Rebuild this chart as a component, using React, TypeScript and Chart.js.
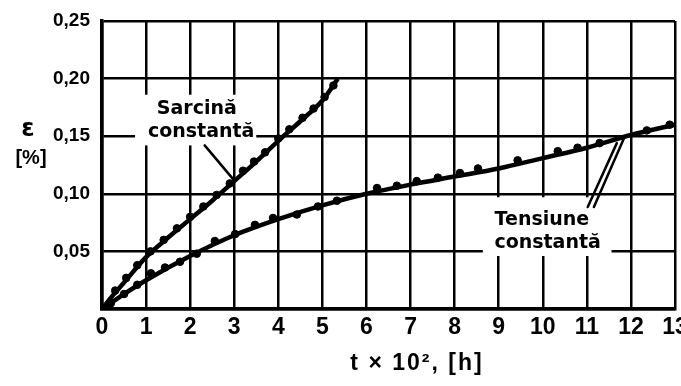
import React, { useEffect, useRef } from 'react';
import { Chart, registerables } from 'chart.js';

Chart.register(...registerables);

// Curve "Sarcină constantă" (t ×10² h, ε %)
const sarcinaT = [0, 0.25, 0.5, 1, 1.5, 2, 2.5, 3, 3.5, 4, 4.5, 5, 5.35];
const sarcinaE = [0, 0.012, 0.023, 0.045, 0.062, 0.078, 0.094, 0.111, 0.128, 0.146, 0.163, 0.181, 0.2];
// Measured points, "Sarcină constantă"
const sarcinaPtT = [0.3, 0.55, 0.8, 1.1, 1.4, 1.7, 2.0, 2.3, 2.6, 2.9, 3.2, 3.45, 3.7, 4.0, 4.25, 4.55, 4.8, 5.05, 5.25];
const sarcinaPtE = [0.016, 0.027, 0.038, 0.05, 0.06, 0.07, 0.08, 0.089, 0.099, 0.109, 0.12, 0.128, 0.136, 0.148, 0.156, 0.166, 0.174, 0.184, 0.194];

// Curve "Tensiune constantă"
const tensiuneT = [0, 0.5, 1, 2, 3, 4, 5, 6, 7, 8, 9, 10, 11, 12, 13];
const tensiuneE = [0, 0.013, 0.025, 0.046, 0.064, 0.078, 0.09, 0.1, 0.108, 0.115, 0.122, 0.131, 0.14, 0.151, 0.16];
// Measured points, "Tensiune constantă"
const tensiunePtT = [0.2, 0.5, 0.8, 1.11, 1.43, 1.77, 2.15, 2.56, 3.02, 3.47, 3.88, 4.42, 4.9, 5.33, 6.24, 6.69, 7.14, 7.62, 8.12, 8.53, 9.43, 10.34, 10.79, 11.29, 12.36, 12.88];
const tensiunePtE = [0.005, 0.013, 0.021, 0.031, 0.036, 0.041, 0.048, 0.059, 0.065, 0.073, 0.079, 0.082, 0.089, 0.094, 0.105, 0.107, 0.111, 0.114, 0.118, 0.122, 0.129, 0.137, 0.14, 0.144, 0.155, 0.16];

const xMin = 0;
const xMax = 13;
const yMin = 0;
const yMax = 0.25;
const yStep = 0.05;

const labelSarcina = ['Sarcină', 'constantă'];
const labelTensiune = ['Tensiune', 'constantă'];
const xTitle = 't × 10², [h]';
const yTitle = ['ε', '[%]'];

const SANS = "'Liberation Sans', Arial, sans-serif";
const WIDE = "'DejaVu Sans', sans-serif";

const pts = (xs: number[], ys: number[]) => xs.map((x, i) => ({ x, y: ys[i] }));

const annotations = {
  id: 'annotations',
  beforeDatasetsDraw(chart: any) {
    const { ctx, scales } = chart;
    const X = (v: number) => scales.x.getPixelForValue(v);
    const Y = (v: number) => scales.y.getPixelForValue(v);
    ctx.save();
    ctx.fillStyle = '#fff';
    // white label backgrounds (interrupt the grid)
    ctx.fillRect(X(0.75), Y(0.186), X(3.5) - X(0.75), Y(0.142) - Y(0.186));
    ctx.fillRect(X(8.64), Y(0.097), X(11.56) - X(8.64), Y(0.046) - Y(0.097));
    ctx.restore();
  },
  afterDraw(chart: any) {
    const { ctx, scales } = chart;
    const X = (v: number) => scales.x.getPixelForValue(v);
    const Y = (v: number) => scales.y.getPixelForValue(v);
    ctx.save();
    ctx.fillStyle = '#000';
    ctx.strokeStyle = '#000';
    ctx.textAlign = 'center';
    ctx.textBaseline = 'middle';
    ctx.font = `bold 19px ${WIDE}`;
    ctx.fillText(labelSarcina[0], X(2.15), Y(0.1735));
    ctx.fillText(labelSarcina[1], X(2.25), Y(0.154));
    ctx.fillText(labelTensiune[0], X(9.98), Y(0.0773));
    ctx.fillText(labelTensiune[1], X(10.11), Y(0.0573));
    // pointer lines
    ctx.lineWidth = 2.5;
    ctx.lineCap = 'round';
    ctx.beginPath();
    ctx.moveTo(X(2.33), Y(0.142));
    ctx.lineTo(X(2.97), Y(0.113));
    ctx.moveTo(X(11.02), Y(0.0885));
    ctx.lineTo(X(11.68), Y(0.144));
    ctx.moveTo(X(11.16), Y(0.0885));
    ctx.lineTo(X(11.84), Y(0.148));
    ctx.stroke();
    // axis titles
    ctx.font = `bold 24px ${WIDE}`;
    ctx.fillText(yTitle[0], 28, 130);
    ctx.font = `bold 20px ${SANS}`;
    ctx.fillText(yTitle[1], 31, 158);
    ctx.font = `bold 23px ${SANS}`;
    (ctx as any).letterSpacing = '2px';
    ctx.fillText(xTitle, 417, 364);
    ctx.restore();
  },
};

export default function App() {
  const ref = useRef<HTMLCanvasElement>(null);
  useEffect(() => {
    if (!ref.current) return;
    const chart = new Chart(ref.current, {
      type: 'line',
      data: {
        datasets: [
          {
            label: labelSarcina.join(' '),
            data: pts(sarcinaT, sarcinaE),
            borderColor: '#000',
            borderWidth: 4.5,
            pointRadius: 0,
            cubicInterpolationMode: 'monotone',
          },
          {
            label: labelTensiune.join(' '),
            data: pts(tensiuneT, tensiuneE),
            borderColor: '#000',
            borderWidth: 4.5,
            pointRadius: 0,
            cubicInterpolationMode: 'monotone',
          },
          {
            label: labelSarcina.join(' ') + ' (puncte)',
            data: pts(sarcinaPtT, sarcinaPtE),
            showLine: false,
            pointRadius: 3.8,
            pointBackgroundColor: '#000',
            pointBorderColor: '#000',
          },
          {
            label: labelTensiune.join(' ') + ' (puncte)',
            data: pts(tensiunePtT, tensiunePtE),
            showLine: false,
            pointRadius: 3.8,
            pointBackgroundColor: '#000',
            pointBorderColor: '#000',
          },
        ],
      },
      options: {
        animation: false,
        responsive: true,
        maintainAspectRatio: false,
        layout: { padding: { top: 21, right: 6, left: 0, bottom: 0 } },
        plugins: { legend: { display: false }, tooltip: { enabled: false } },
        scales: {
          x: {
            type: 'linear',
            min: xMin,
            max: xMax,
            ticks: {
              stepSize: 1,
              color: '#000',
              font: { family: SANS, size: 23, weight: 'bold' },
              padding: 5,
              maxRotation: 0,
              autoSkip: false,
            },
            grid: { color: '#000', lineWidth: 2.5, drawTicks: false },
            border: { color: '#000', width: 3.5 },
            afterFit: (s: any) => { s.height = 77; s.paddingLeft = 0; s.paddingRight = 0; },
          },
          y: {
            min: yMin,
            max: yMax,
            ticks: {
              stepSize: yStep,
              color: '#000',
              font: { family: SANS, size: 19, weight: 'bold' },
              padding: 12,
              callback: (v: any) => (Number(v) === 0 ? '' : Number(v).toFixed(2).replace('.', ',')),
            },
            grid: { color: '#000', lineWidth: 2.5, drawTicks: false },
            border: { color: '#000', width: 3.5 },
            afterFit: (s: any) => { s.width = 102; s.paddingTop = 0; s.paddingBottom = 0; },
          },
        },
      },
      plugins: [annotations],
    });
    return () => chart.destroy();
  }, []);
  return (
    <div style={{ position: 'absolute', left: 0, top: 0, width: 681, height: 386, background: '#fff' }}>
      <canvas ref={ref} />
    </div>
  );
}
